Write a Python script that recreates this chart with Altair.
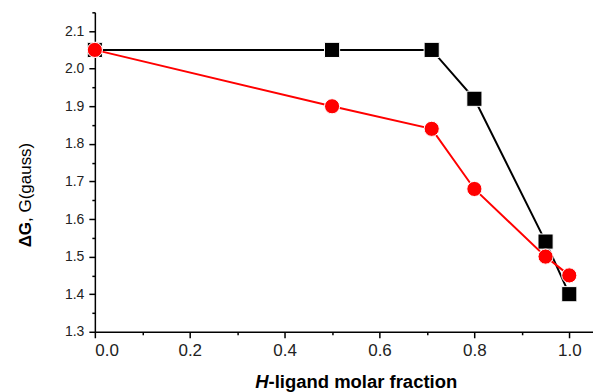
import altair as alt
import pandas as pd

x_vals = [0.0, 0.5, 0.71, 0.8, 0.95, 1.0]
black_vals = [2.05, 2.05, 2.05, 1.92, 1.54, 1.40]
red_vals = [2.05, 1.90, 1.84, 1.68, 1.50, 1.45]

x_major = [0.0, 0.2, 0.4, 0.6, 0.8, 1.0]
x_minor = [0.1, 0.3, 0.5, 0.7, 0.9]
y_major = [1.3, 1.4, 1.5, 1.6, 1.7, 1.8, 1.9, 2.0, 2.1]
y_minor = [1.35, 1.45, 1.55, 1.65, 1.75, 1.85, 1.95, 2.05, 2.15]

df_black = pd.DataFrame({"x": x_vals, "y": black_vals})
df_red = pd.DataFrame({"x": x_vals, "y": red_vals})

FONT = "Liberation Sans"

xscale = alt.Scale(domain=[0, 1.05], nice=False, zero=False)
yscale = alt.Scale(domain=[1.3, 2.15], nice=False, zero=False)

common = dict(grid=False, title=None, domainColor="black", domainWidth=1.5,
              tickColor="black", tickWidth=1.5, labelFont=FONT,
              labelColor="#222", labelOverlap=False)

xaxis_major = alt.Axis(values=x_major, orient="bottom", format=".1f", tickSize=6,
                       labelPadding=5, labelFontSize=17, **common)
yaxis_major = alt.Axis(values=y_major, orient="left", format=".1f", tickSize=6,
                       labelPadding=5, labelFontSize=14, **common)
xaxis_minor = alt.Axis(values=x_minor, orient="bottom", tickSize=3, labels=False,
                       domain=False, grid=False, title=None, tickColor="black", tickWidth=1.5)
yaxis_minor = alt.Axis(values=y_minor, orient="left", tickSize=3, labels=False,
                       domain=False, grid=False, title=None, tickColor="black", tickWidth=1.5)

minor_layer = alt.Chart(df_black).mark_point(opacity=0).encode(
    x=alt.X("x:Q", scale=xscale, axis=xaxis_minor),
    y=alt.Y("y:Q", scale=yscale, axis=yaxis_minor),
)

black_line = alt.Chart(df_black).mark_line(color="black", strokeWidth=2).encode(
    x=alt.X("x:Q", scale=xscale, axis=xaxis_major),
    y=alt.Y("y:Q", scale=yscale, axis=yaxis_major),
)
black_pts = alt.Chart(df_black).mark_point(
    shape="square", filled=True, size=230, color="black", stroke="white", strokeWidth=1, opacity=1
).encode(x=alt.X("x:Q", axis=None), y=alt.Y("y:Q", axis=None))
red_line = alt.Chart(df_red).mark_line(color="#ff0000", strokeWidth=2).encode(
    x=alt.X("x:Q", axis=None), y=alt.Y("y:Q", axis=None))
red_pts = alt.Chart(df_red).mark_point(
    shape="circle", filled=True, size=230, color="#ff0000", stroke="white", strokeWidth=1, opacity=1
).encode(x=alt.X("x:Q", axis=None), y=alt.Y("y:Q", axis=None))

title_df = pd.DataFrame({"a": [0]})
ytitle1 = alt.Chart(title_df).mark_text(
    text="ΔG", angle=270, align="right", baseline="middle",
    font=FONT, fontSize=17, fontWeight="bold", color="black"
).encode(x=alt.value(-69), y=alt.value(210))
ytitle2 = alt.Chart(title_df).mark_text(
    text=", G(gauss)", angle=270, align="left", baseline="middle",
    font=FONT, fontSize=17, fontWeight="normal", color="black"
).encode(x=alt.value(-69), y=alt.value(210))
xtitle1 = alt.Chart(title_df).mark_text(
    text="H", align="right", baseline="middle",
    font=FONT, fontSize=18.5, fontWeight="bold", fontStyle="italic", color="black"
).encode(x=alt.value(174), y=alt.value(370))
xtitle2 = alt.Chart(title_df).mark_text(
    text="-ligand molar fraction", align="left", baseline="middle",
    font=FONT, fontSize=18.5, fontWeight="bold", color="black"
).encode(x=alt.value(174), y=alt.value(370))

chart = alt.layer(
    minor_layer, black_line, black_pts, red_line, red_pts, ytitle1, ytitle2, xtitle1, xtitle2
).resolve_axis(x="independent", y="independent").properties(
    width=499, height=320,
    autosize=alt.AutoSizeParams(type="none"),
    padding={"left": 87, "top": 4, "right": 0, "bottom": 60},
).configure_view(stroke=None)

chart.save("out.html", embed_options={"renderer": "svg", "actions": False})
